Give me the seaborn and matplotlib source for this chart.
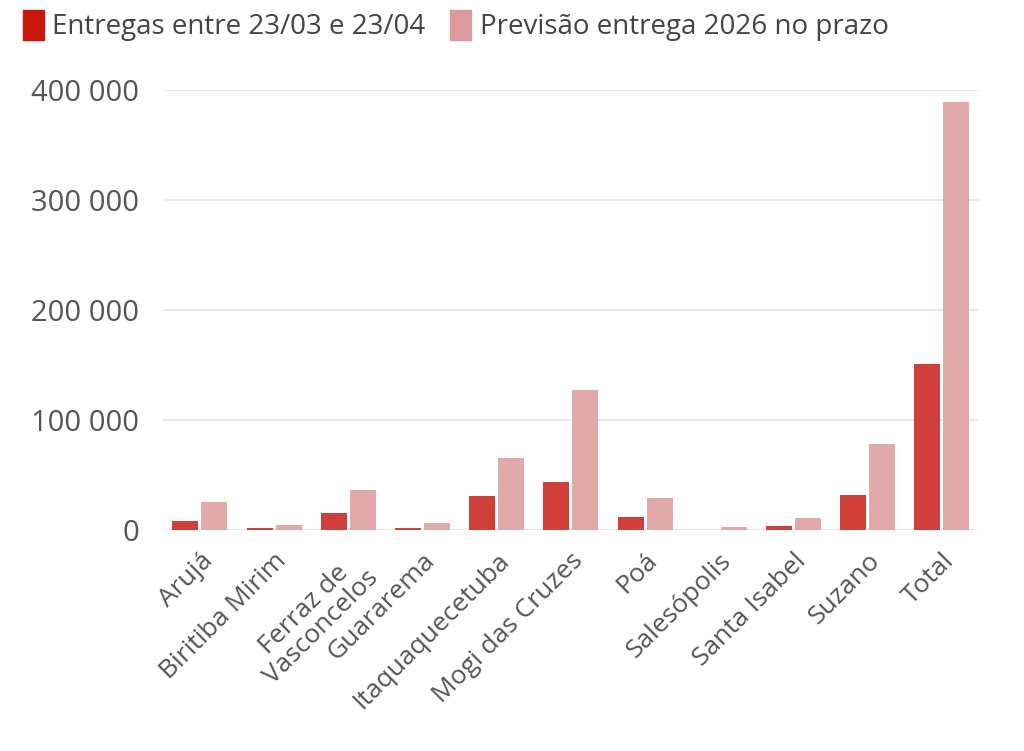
import pandas as pd
import matplotlib.pyplot as plt
import seaborn as sns
from matplotlib.patches import FancyBboxPatch
from matplotlib.ticker import FuncFormatter

municipios = ["Arujá", "Biritiba Mirim", "Ferraz de\nVasconcelos", "Guararema",
              "Itaquaquecetuba", "Mogi das Cruzes", "Poá", "Salesópolis",
              "Santa Isabel", "Suzano", "Total"]
entregas = [8000, 2000, 15500, 2000, 31000, 43500, 12000, 500, 4000, 32000, 151000]
previsao = [25500, 4500, 36500, 7000, 66000, 127000, 29000, 2500, 11000, 78000, 389000]
series = ["Entregas entre 23/03 e 23/04", "Previsão entrega 2026 no prazo"]

df = pd.DataFrame({
    "municipio": municipios * 2,
    "valor": entregas + previsao,
    "serie": [series[0]] * len(municipios) + [series[1]] * len(municipios),
})

sns.set_style("white")
plt.rcParams["font.family"] = ["Open Sans", "DejaVu Sans"]

fig = plt.figure(figsize=(10.24, 7.51), dpi=100)
ax = fig.add_axes([0.159, 0.294, 0.797, 0.586])

sns.barplot(data=df, x="municipio", y="valor", hue="serie",
            palette=["#d13f3b", "#e2a9aa"], saturation=1, width=0.78, gap=0.1,
            linewidth=0, legend=False, ax=ax)

ax.set_ylim(0, 400000)
ax.set_yticks([0, 100000, 200000, 300000, 400000])
ax.yaxis.set_major_formatter(FuncFormatter(lambda v, p: f"{int(v):,}".replace(",", " ")))
ax.grid(axis="y", color="#e8e8e8", linewidth=1.5)
ax.set_axisbelow(True)
ax.set_xlim(-0.5, len(municipios) - 0.5)
for s in ax.spines.values():
    s.set_visible(False)
ax.axhline(0, color="#e4e4e4", linewidth=2, zorder=0)
ax.set_xlabel("")
ax.set_ylabel("")
ax.tick_params(axis="y", length=0, labelsize=21, labelcolor="#555555", pad=17)
ax.tick_params(axis="x", length=10, color="#e4e4e4", width=1.5,
               labelsize=19, labelcolor="#555555", pad=3)
plt.setp(ax.get_xticklabels(), rotation=45, ha="right", rotation_mode="anchor",
         multialignment="center", linespacing=0.95)

# legend at top
handles = [FancyBboxPatch((0, 0), 1, 1, boxstyle="round,pad=0.1", color=c)
           for c in ["#c8170f", "#dc9a9c"]]
fig.legend(handles, series, loc="upper left", bbox_to_anchor=(-0.002, 1.02),
           ncol=2, frameon=False, fontsize=20, handlelength=0.75, handleheight=1.3,
           handletextpad=0.3, columnspacing=0.9, labelcolor="#444444")

fig.savefig("out.png", dpi=100)
